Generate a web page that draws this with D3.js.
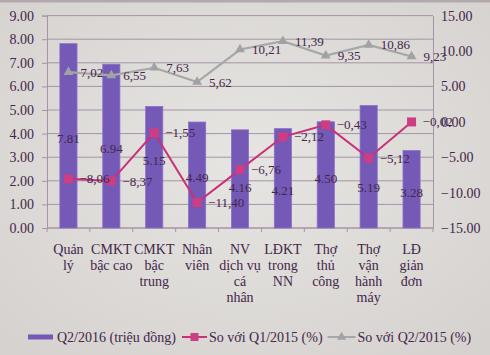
<!DOCTYPE html>
<html>
<head>
<meta charset="utf-8">
<script src="https://cdn.jsdelivr.net/npm/d3@7"></script>
<style>
html,body{margin:0;padding:0;background:#e1dfdc;}
svg{display:block;}
</style>
</head>
<body>
<svg id="chart" width="490" height="355"></svg>
<script>
// ---- data ----
const categories = ["Quản\nlý", "CMKT\nbậc cao", "CMKT\nbậc\ntrung", "Nhân\nviên", "NV\ndịch vụ\ncá\nnhân", "LĐKT\ntrong\nNN", "Thợ\nthủ\ncông", "Thợ\nvận\nhành\nmáy", "LĐ\ngiản\nđơn"];
const q2_2016 = [7.81, 6.94, 5.15, 4.49, 4.16, 4.21, 4.50, 5.19, 3.28];
const vsQ1_2015 = [-8.06, -8.37, -1.55, -11.40, -6.76, -2.12, -0.43, -5.12, -0.02];
const vsQ2_2015 = [7.02, 6.55, 7.63, 5.62, 10.21, 11.39, 9.35, 10.86, 9.23];
const leftTicks = [0, 1, 2, 3, 4, 5, 6, 7, 8, 9];
const rightTicks = [-15, -10, -5, 0, 5, 10, 15];
const seriesNames = ["Q2/2016 (triệu đồng)", "So với Q1/2015 (%)", "So với Q2/2015 (%)"];

// ---- layout ----
const svg = d3.select("#chart");
const W = 490, H = 355;
const L = 47, R = 433, T = 15.6, B = 228;
const textColor = "#43264a";
const barColor = "#7559b6";
const magenta = "#c8317a";
const grayC = "#a6a8a7";
const gridC = "#a594a6";
const serif = "'Liberation Serif','Times New Roman',serif";
// manual nudges of bar value labels (px), as dragged in the original
const barLabelNudge = [2, 2, -7, 2, 8, 12, 3, 20, 3];

// background
const defs = svg.append("defs");
const rg = defs.append("radialGradient").attr("id","bg").attr("cx","50%").attr("cy","45%").attr("r","70%");
rg.append("stop").attr("offset","0%").attr("stop-color","#e7e5e2");
rg.append("stop").attr("offset","100%").attr("stop-color","#d5d2cf");
svg.append("rect").attr("width",W).attr("height",H).attr("fill","url(#bg)");
svg.append("rect").attr("width",W).attr("height",2.5).attr("fill","#b3a9ad");

const x = d3.scaleBand().domain(categories).range([L, R]).padding(0);
const yL = d3.scaleLinear().domain([0, 9]).range([B, T]);
const yR = d3.scaleLinear().domain([-15, 15]).range([B, T]);
const cx = d => x(d) + x.bandwidth() / 2;
const bw = x.bandwidth() * 0.4;

// gridlines
svg.append("g").selectAll("line").data(leftTicks).join("line")
  .attr("x1", L).attr("x2", R).attr("y1", d => yL(d)).attr("y2", d => yL(d))
  .attr("stroke", gridC).attr("stroke-width", 1);

// left axis
const gl = svg.append("g").attr("transform", `translate(${L},0)`)
  .call(d3.axisLeft(yL).tickValues(leftTicks).tickFormat(d3.format(".2f")).tickSize(5).tickPadding(8));
gl.selectAll("path,line").attr("stroke", gridC);
gl.selectAll("text").attr("fill", textColor).style("font-family", serif).style("font-size", "14px");

// right axis
const gr = svg.append("g").attr("transform", `translate(${R},0)`)
  .call(d3.axisRight(yR).tickValues(rightTicks).tickFormat(d3.format(".2f")).tickSize(0).tickPadding(8));
gr.selectAll("path,line").attr("stroke", gridC);
gr.selectAll("text").attr("fill", textColor).style("font-family", serif).style("font-size", "14px");

// bottom axis line + ticks at band boundaries
svg.append("line").attr("x1", L).attr("x2", R).attr("y1", B).attr("y2", B).attr("stroke", gridC);
const bounds = categories.map(c => x(c)).concat([x(categories[categories.length-1]) + x.bandwidth()]);
svg.append("g").selectAll("line").data(bounds).join("line")
  .attr("x1", d => d).attr("x2", d => d).attr("y1", B).attr("y2", B + 4).attr("stroke", gridC);

// category labels
const cat = svg.append("g");
categories.forEach(c => {
  const lines = c.split("\n");
  const t = cat.append("text").attr("text-anchor", "middle").attr("fill", textColor)
    .style("font-family", serif).style("font-size", "14px");
  lines.forEach((ln, i) => {
    t.append("tspan").attr("x", cx(c)).attr("y", 254 + i * 16).text(ln);
  });
});

// bars
svg.append("g").selectAll("rect").data(q2_2016).join("rect")
  .attr("x", (d, i) => cx(categories[i]) - bw / 2).attr("width", bw)
  .attr("y", d => yL(d)).attr("height", d => B - yL(d))
  .attr("fill", barColor).attr("stroke", "#8a70c8").attr("stroke-width", 0.8);

// bar labels
svg.append("g").selectAll("text").data(q2_2016).join("text")
  .attr("x", (d, i) => cx(categories[i])).attr("y", (d, i) => (yL(d) + B) / 2 + 5 + barLabelNudge[i])
  .attr("text-anchor", "middle").attr("fill", textColor)
  .style("font-family", serif).style("font-size", "13px")
  .text(d => d3.format(".2f")(d));

const comma = d => d3.format(".2f")(d).replace(".", ",");

// gray line (So với Q2/2015)
const lineG = d3.line().x((d, i) => cx(categories[i])).y(d => yR(d));
svg.append("path").datum(vsQ2_2015).attr("d", lineG).attr("fill", "none")
  .attr("stroke", grayC).attr("stroke-width", 2.2);
const tri = d3.symbol().type(d3.symbolTriangle).size(42);
svg.append("g").selectAll("path").data(vsQ2_2015).join("path")
  .attr("d", tri).attr("transform", (d, i) => `translate(${cx(categories[i])},${yR(d)})`)
  .attr("fill", "#9fa3a3");
svg.append("g").selectAll("text").data(vsQ2_2015).join("text")
  .attr("x", (d, i) => cx(categories[i]) + 12).attr("y", d => yR(d) + 4.5)
  .attr("fill", textColor).style("font-family", serif).style("font-size", "13px")
  .text(comma);

// magenta line (So với Q1/2015)
svg.append("path").datum(vsQ1_2015).attr("d", lineG).attr("fill", "none")
  .attr("stroke", magenta).attr("stroke-width", 2);
svg.append("g").selectAll("rect").data(vsQ1_2015).join("rect")
  .attr("x", (d, i) => cx(categories[i]) - 4.5).attr("y", d => yR(d) - 4.5)
  .attr("width", 9).attr("height", 9).attr("fill", "#cc3d84");
svg.append("g").selectAll("text").data(vsQ1_2015).join("text")
  .attr("x", (d, i) => cx(categories[i]) + 11).attr("y", d => yR(d) + 4.5)
  .attr("fill", textColor).style("font-family", serif).style("font-size", "13px")
  .text(comma);

// legend
const lg = svg.append("g").style("font-family", serif).style("font-size", "14px");
const ly = 337;
let lx = 28;
lg.append("rect").attr("x", lx).attr("y", ly - 2.5).attr("width", 25).attr("height", 5).attr("fill", barColor);
lx += 29;
let t1 = lg.append("text").attr("x", lx).attr("y", ly + 4.5).attr("fill", textColor).text(seriesNames[0]);
lx += t1.node().getComputedTextLength() + 6;
lg.append("line").attr("x1", lx).attr("x2", lx + 25).attr("y1", ly).attr("y2", ly).attr("stroke", magenta).attr("stroke-width", 2);
lg.append("rect").attr("x", lx + 12.5 - 4).attr("y", ly - 4).attr("width", 8).attr("height", 8).attr("fill", "#cc3d84");
lx += 27;
let t2 = lg.append("text").attr("x", lx).attr("y", ly + 4.5).attr("fill", textColor).text(seriesNames[1]);
lx += t2.node().getComputedTextLength() + 5;
lg.append("line").attr("x1", lx).attr("x2", lx + 28).attr("y1", ly).attr("y2", ly).attr("stroke", grayC).attr("stroke-width", 2);
lg.append("path").attr("d", d3.symbol().type(d3.symbolTriangle).size(36)).attr("transform", `translate(${lx + 14},${ly})`).attr("fill", "#9fa3a3");
lx += 30;
lg.append("text").attr("x", lx).attr("y", ly + 4.5).attr("fill", textColor).text(seriesNames[2]);
</script>
</body>
</html>
